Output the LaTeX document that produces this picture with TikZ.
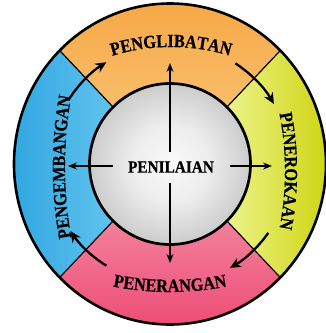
\documentclass[tikz,border=0pt]{standalone}
\usepackage{fontspec}
\setmainfont{Liberation Serif}
\newfontfamily\ringserif{Liberation Serif}[FakeStretch=0.88,FakeBold=0.6]
\newfontfamily\centreserif{Liberation Serif}[FakeStretch=0.9,FakeBold=0.6]
\usetikzlibrary{arrows.meta,decorations.text}
\definecolor{orangeTop}{HTML}{F6A540}
\definecolor{orangeBot}{HTML}{F9BE6C}
\definecolor{yellowOut}{HTML}{CBD100}
\definecolor{yellowIn}{HTML}{ECF38A}
\definecolor{pinkTop}{HTML}{F3809C}
\definecolor{pinkBot}{HTML}{ED4670}
\definecolor{blueOut}{HTML}{2BA3E0}
\definecolor{blueIn}{HTML}{60C3EE}
\newcommand\ringfont{\ringserif\fontsize{18.5}{20}\selectfont\bfseries}
\pgfdeclareradialshading{discshade}{\pgfpoint{0bp}{0bp}}{color(0bp)=(gray!4); color(12bp)=(gray!14); color(25bp)=(gray!40); color(50bp)=(gray!40)}
\begin{document}
\begin{tikzpicture}[x=1pt,y=1pt,
  divider/.style={draw=black,line width=1.2pt},
  ringarrow/.style={line width=2.3pt,-{Stealth[length=11pt,width=10pt]}},
  centerarrow/.style={line width=1.3pt,-{Stealth[length=9pt,width=7pt]}},
  ringlabel/.style={decorate,decoration={text along path,text align=center,text={#1}}}
]
\useasboundingbox (-170,-169) rectangle (156,164);
% sector corner points
\coordinate (o45) at (110.31,113.49);
\coordinate (o135) at (-110.31,113.49);
\coordinate (o225) at (-110.31,-113.49);
\coordinate (o315) at (110.31,-113.49);
\coordinate (i45) at (56.92,56.92);
\coordinate (i135) at (-56.92,56.92);
\coordinate (i225) at (-56.92,-56.92);
\coordinate (i315) at (56.92,-56.92);
% sectors
\shade[top color=orangeTop,bottom color=orangeBot]
  (i45) -- (o45) arc[start angle=45,end angle=135,x radius=156pt,y radius=160.5pt]
  -- (i135) arc[start angle=135,end angle=45,radius=80.5pt] -- cycle;
\shade[left color=yellowIn,right color=yellowOut]
  (i315) -- (o315) arc[start angle=-45,end angle=45,x radius=156pt,y radius=160.5pt]
  -- (i45) arc[start angle=45,end angle=-45,radius=80.5pt] -- cycle;
\shade[top color=pinkTop,bottom color=pinkBot]
  (i225) -- (o225) arc[start angle=225,end angle=315,x radius=156pt,y radius=160.5pt]
  -- (i315) arc[start angle=315,end angle=225,radius=80.5pt] -- cycle;
\shade[left color=blueOut,right color=blueIn]
  (i135) -- (o135) arc[start angle=135,end angle=225,x radius=156pt,y radius=160.5pt]
  -- (i225) arc[start angle=225,end angle=135,radius=80.5pt] -- cycle;
% dividers
\draw[divider] (i45) -- (o45);
\draw[divider] (i135) -- (o135);
\draw[divider] (i225) -- (o225);
\draw[divider] (i315) -- (o315);
% outer rim
\draw[line width=2.6pt] (0,0) ellipse[x radius=156pt,y radius=160.5pt];
% centre disc
\shade[shading=discshade] (0,0) circle[radius=80.5pt];
\draw[line width=2.7pt] (0,0) circle[radius=80.5pt];
\node[font=\centreserif\fontsize{17}{19}\selectfont\bfseries,inner sep=0pt] (pen) at (1,-3) {PENILAIAN};
% centre arrows
\coordinate (tu) at (0,12);   \coordinate (hu) at (0,101);
\coordinate (td) at (0,-19);  \coordinate (hd) at (0,-99);
\coordinate (tl) at (-57,-2); \coordinate (hl) at (-102,-2);
\coordinate (tr) at (60,-2);  \coordinate (hr) at (102,-2);
\draw[centerarrow] (tu) -- (hu);
\draw[centerarrow] (td) -- (hd);
\draw[centerarrow] (tl) -- (hl);
\draw[centerarrow] (tr) -- (hr);
% ring arrows (clockwise cycle)
\coordinate (a1) at (148:120pt);
\coordinate (a2) at (57:120pt);
\coordinate (a3) at (-35:120pt);
\coordinate (a4) at (-122:120pt);
\draw[ringarrow] (a1) arc[start angle=148,end angle=122,radius=120pt];
\draw[ringarrow] (a2) arc[start angle=57,end angle=30,radius=120pt];
\draw[ringarrow] (a3) arc[start angle=-35,end angle=-60,radius=120pt];
\draw[ringarrow] (a4) arc[start angle=-122,end angle=-146,radius=120pt];
% ring labels (flatter arcs than the ring)
\coordinate (lt) at (-99,90.2);
\coordinate (lr) at (96.9,95.6);
\coordinate (lb) at (-102.6,-109.9);
\coordinate (ll) at (-91.4,-106.5);
\path[ringlabel={|\ringfont|PENGLIBATAN}] (lt) arc[start angle=120,end angle=60,radius=200pt];
\path[ringlabel={|\ringfont|PENEROKAAN}] (lr) arc[start angle=20,end angle=-20,radius=300pt];
\path[ringlabel={|\ringfont|PENERANGAN}] (lb) arc[start angle=250,end angle=290,radius=300pt];
\path[ringlabel={|\ringfont|PENGEMBANGAN}] (ll) arc[start angle=195,end angle=165,radius=400pt];
\end{tikzpicture}
\end{document}
